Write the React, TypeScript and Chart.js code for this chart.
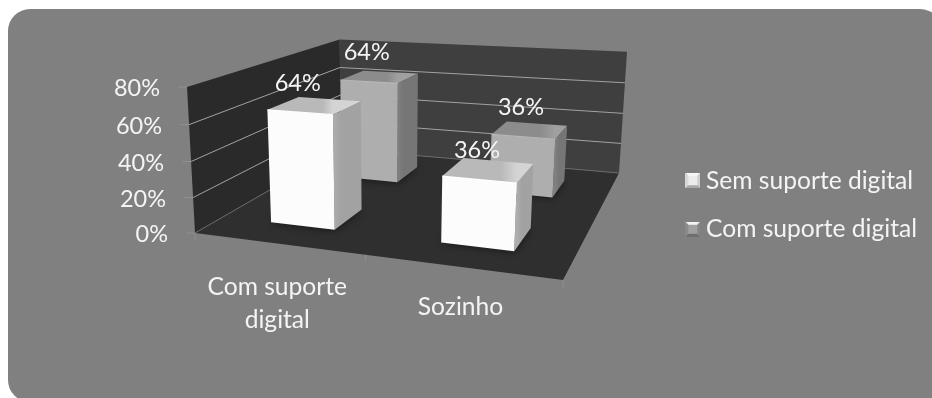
import React, { useEffect, useRef } from "react";
import { Chart, BarController, BarElement, CategoryScale, LinearScale, Legend } from "chart.js";

const categories: string[][] = [["Com suporte", "digital"], ["Sozinho"]];
const seriesNames = ["Sem suporte digital", "Com suporte digital"];
const semSuporte = [0.64, 0.36];
const comSuporte = [0.64, 0.36];
const axisMax = 0.8;
const axisStep = 0.2;

const FONT = "Lato, Carlito, sans-serif";
const TEXT = "#f4f4f4";
const FONT_SIZE = 24.6;
const NUMBER_SIZE = 23.5;

type P = [number, number];

// Screen positions of the plot cube's corners, used to build a perspective projection.
const FLOOR_FRONT_LEFT: P = [195, 233];
const FLOOR_FRONT_RIGHT: P = [563, 280];
const FLOOR_BACK_RIGHT: P = [619, 173];
const FLOOR_BACK_LEFT: P = [341, 149];
const TOP_FRONT_LEFT: P = [187, 87];
const TOP_BACK_RIGHT: P = [627, 53];

function buildProjection() {
  const [x0, y0] = FLOOR_FRONT_LEFT;
  const [x1, y1] = FLOOR_FRONT_RIGHT;
  const [x2, y2] = FLOOR_BACK_RIGHT;
  const [x3, y3] = FLOOR_BACK_LEFT;
  const sx = x0 - x1 + x2 - x3;
  const sy = y0 - y1 + y2 - y3;
  const dx1 = x1 - x2;
  const dx2 = x3 - x2;
  const dy1 = y1 - y2;
  const dy2 = y3 - y2;
  const den = dx1 * dy2 - dx2 * dy1;
  const g = (sx * dy2 - dx2 * sy) / den;
  const h = (dx1 * sy - sx * dy1) / den;
  const a = x1 - x0 + g * x1;
  const b = x3 - x0 + h * x3;
  const d = y1 - y0 + g * y1;
  const e = y3 - y0 + h * y3;
  const [tx, ty] = TOP_FRONT_LEFT;
  const [rx] = TOP_BACK_RIGHT;
  const farW = g + h + 1;
  const farX = a + b + x0;
  const wz = (farX + tx - x0 - rx * farW) / (rx - tx);
  const wx = tx * (1 + wz) - x0;
  const wy = ty * (1 + wz) - y0;
  return (u: number, v: number, t: number): P => {
    const w = g * u + h * v + 1 + wz * t;
    return [(a * u + b * v + x0 + wx * t) / w, (d * u + e * v + y0 + wy * t) / w];
  };
}

const project = buildProjection();

function quad(ctx: CanvasRenderingContext2D, pts: P[], fill: string | CanvasGradient) {
  ctx.beginPath();
  pts.forEach((p, i) => (i ? ctx.lineTo(p[0], p[1]) : ctx.moveTo(p[0], p[1])));
  ctx.closePath();
  ctx.fillStyle = fill;
  ctx.fill();
}

function stroke(ctx: CanvasRenderingContext2D, a: P, b: P, color: string, width = 1) {
  ctx.beginPath();
  ctx.moveTo(a[0], a[1]);
  ctx.lineTo(b[0], b[1]);
  ctx.strokeStyle = color;
  ctx.lineWidth = width;
  ctx.stroke();
}

type BoxStyle = { front: string; topFrom: string; topTo: string; side: string; sideLit: string; edge: string };

const boxStyles: BoxStyle[] = [
  { front: "#fcfcfc", topFrom: "#b9b9b9", topTo: "#d4d4d4", side: "#a2a2a2", sideLit: "#aeaeae", edge: "#ffffff" },
  { front: "#aeaeae", topFrom: "#8c8c8c", topTo: "#a0a0a0", side: "#767676", sideLit: "#808080", edge: "#b8b8b8" },
];

// Bar controller whose elements are extruded along the depth axis and projected.
class Box3DController extends BarController {
  static id = "box3d";
  static defaults = BarController.defaults;
  static overrides = BarController.overrides;

  draw() {
    const chart = this.chart;
    const ctx = chart.ctx as CanvasRenderingContext2D;
    const meta = this.getMeta();
    const xs = chart.scales.x;
    const ys = chart.scales.y;
    const zs = chart.scales.z;
    const style = boxStyles[this.index];
    const zc = (zs.getPixelForValue(seriesNames[this.index] as any) - zs.left) / zs.width;
    meta.data.forEach((el: any) => {
      const { x, y, base, width } = el.getProps(["x", "y", "base", "width"], true);
      const uc = (x - xs.left) / xs.width;
      const half = width / xs.width / 2;
      const u0 = uc - half;
      const u1 = uc + half;
      const v0 = zc - half;
      const v1 = zc + half;
      const t = (ys.bottom - y) / ys.height;
      const t0 = (ys.bottom - base) / ys.height;

      ctx.save();
      ctx.shadowColor = "rgba(0,0,0,0.6)";
      ctx.shadowBlur = 9;
      quad(ctx, [project(u0, v0, t0), project(u1, v0, t0), project(u1, v1, t0), project(u0, v1, t0)], "#222222");
      ctx.restore();

      const fl = project(u0, v0, t);
      const fr = project(u1, v0, t);
      const br = project(u1, v1, t);
      const bl = project(u0, v1, t);
      const ftFloor = project(u1, v0, t0);
      const brFloor = project(u1, v1, t0);

      const topShade = ctx.createLinearGradient(bl[0], 0, fr[0], 0);
      topShade.addColorStop(0, style.topFrom);
      topShade.addColorStop(0.7, style.topFrom);
      topShade.addColorStop(1, style.topTo);
      quad(ctx, [fl, fr, br, bl], topShade);

      const sideShade = ctx.createLinearGradient(fr[0], 0, br[0], 0);
      sideShade.addColorStop(0, style.sideLit);
      sideShade.addColorStop(0.3, style.side);
      sideShade.addColorStop(1, style.side);
      quad(ctx, [fr, br, brFloor, ftFloor], sideShade);

      quad(ctx, [fl, fr, ftFloor, project(u0, v0, t0)], style.front);
      stroke(ctx, fl, fr, style.edge, 1.2);
    });
  }
}

// Background panel, walls, floor and grid are painted from the axis scales.
const stagePlugin = {
  id: "stage",
  beforeDraw(chart: any) {
    const ctx = chart.ctx as CanvasRenderingContext2D;
    ctx.save();
    ctx.fillStyle = "#ffffff";
    ctx.fillRect(0, 0, chart.width, chart.height);
    ctx.beginPath();
    ctx.roundRect(8, 9, 934, 393, 22);
    ctx.fillStyle = "#808080";
    ctx.fill();
    ctx.restore();
  },
  beforeDatasetsDraw(chart: any) {
    const ctx = chart.ctx as CanvasRenderingContext2D;
    const ys = chart.scales.y;
    const xs = chart.scales.x;
    ctx.save();
    quad(ctx, [project(0, 1, 0), project(1, 1, 0), project(1, 1, 1), project(0, 1, 1)], "#3f3f3f");
    quad(ctx, [project(0, 0, 0), project(0, 1, 0), project(0, 1, 1), project(0, 0, 1)], "#2a2a2a");
    quad(ctx, [project(0, 0, 0), project(1, 0, 0), project(1, 1, 0), project(0, 1, 0)], "#2f2f2f");

    ys.ticks.forEach((tick: any) => {
      const t = (ys.bottom - ys.getPixelForValue(tick.value)) / ys.height;
      const front = project(0, 0, t);
      stroke(ctx, [front[0] - 9, front[1]], front, "#8f8f8f");
      if (t < 0.999) {
        const color = t < 0.001 ? "#6a6a6a" : "#a2a2a2";
        stroke(ctx, front, project(0, 1, t), color);
        stroke(ctx, project(0, 1, t), project(1, 1, t), color);
      }
    });
    [0, 0.5, 1].forEach((u) => {
      const p = project(u, 0, 0);
      stroke(ctx, p, [p[0], p[1] + 7], "#8f8f8f");
    });

    ctx.fillStyle = TEXT;
    ctx.font = `${NUMBER_SIZE}px ${FONT}`;
    ctx.textAlign = "right";
    ctx.textBaseline = "middle";
    ys.ticks.forEach((tick: any) => {
      const t = (ys.bottom - ys.getPixelForValue(tick.value)) / ys.height;
      const p = project(0, 0, t);
      ctx.fillText(`${Math.round(tick.value * 100)}%`, p[0] - 27, p[1] + 1.5);
    });

    ctx.font = `${FONT_SIZE}px ${FONT}`;
    ctx.textAlign = "center";
    xs.getLabels().forEach((label: string[], i: number) => {
      const u = (xs.getPixelForValue(i) - xs.left) / xs.width;
      const p = project(u, 0, 0);
      const lineHeight = 33;
      const top = 304 - ((label.length - 1) * lineHeight) / 2;
      label.forEach((line, j) => ctx.fillText(line, p[0], top + j * lineHeight + (label.length === 1 ? 3 : 0)));
    });
    ctx.restore();
  },
  afterDatasetsDraw(chart: any) {
    const ctx = chart.ctx as CanvasRenderingContext2D;
    const xs = chart.scales.x;
    const ys = chart.scales.y;
    const zs = chart.scales.z;
    ctx.save();
    ctx.fillStyle = TEXT;
    ctx.font = `${NUMBER_SIZE}px ${FONT}`;
    ctx.textAlign = "center";
    ctx.textBaseline = "middle";
    chart.data.datasets.forEach((ds: any, di: number) => {
      const zc = (zs.getPixelForValue(seriesNames[di] as any) - zs.left) / zs.width;
      chart.getDatasetMeta(di).data.forEach((el: any, i: number) => {
        const half = el.width / xs.width / 2;
        const u = (el.x - xs.left) / xs.width;
        const t = (ys.bottom - el.y) / ys.height;
        const p = project(u, zc - half, t);
        ctx.fillText(`${Math.round(ds.data[i] * 100)}%`, p[0] - 2, p[1] - 29);
      });
    });
    ctx.restore();
  },
};

// Small bevelled legend swatches.
function swatch(center: string, top: string, bottom: string, left: string, right: string) {
  const c = document.createElement("canvas");
  c.width = 15;
  c.height = 15;
  const ctx = c.getContext("2d") as CanvasRenderingContext2D;
  const s = 15;
  const b = 3;
  quad(ctx, [[0, 0], [s, 0], [s - b, b], [b, b]], top);
  quad(ctx, [[0, s], [s, s], [s - b, s - b], [b, s - b]], bottom);
  quad(ctx, [[0, 0], [b, b], [b, s - b], [0, s]], left);
  quad(ctx, [[s, 0], [s - b, b], [s - b, s - b], [s, s]], right);
  quad(ctx, [[b, b], [s - b, b], [s - b, s - b], [b, s - b]], center);
  return c;
}

export default function App() {
  const ref = useRef<HTMLCanvasElement>(null);
  useEffect(() => {
    Chart.register(Box3DController, BarElement, CategoryScale, LinearScale, Legend);
    const swatches = [
      swatch("#ececec", "#f7f7f7", "#a9a9a9", "#d8d8d8", "#cfcfcf"),
      swatch("#a0a0a0", "#f4f4f4", "#6f6f6f", "#8a8a8a", "#858585"),
    ];
    const chart = new Chart(ref.current as HTMLCanvasElement, {
      type: "box3d" as any,
      plugins: [stagePlugin],
      data: {
        labels: categories as any,
        datasets: [
          { label: seriesNames[0], data: semSuporte, grouped: false, backgroundColor: "#fcfcfc" },
          { label: seriesNames[1], data: comSuporte, grouped: false, backgroundColor: "#aeaeae" },
        ] as any,
      },
      options: {
        animation: false,
        responsive: false,
        events: [],
        layout: { padding: { top: 12, right: 5 } },
        datasets: { box3d: { barPercentage: 0.39, categoryPercentage: 1 } } as any,
        scales: {
          x: { type: "category", display: false },
          y: { type: "linear", min: 0, max: axisMax, ticks: { stepSize: axisStep }, display: false },
          z: { type: "category", axis: "x", labels: seriesNames, display: false, offset: true },
        } as any,
        plugins: {
          tooltip: { enabled: false },
          legend: {
            display: true,
            position: "right",
            labels: {
              usePointStyle: true,
              pointStyleWidth: 2,
              padding: 24,
              font: { family: FONT, size: FONT_SIZE },
              color: TEXT,
              generateLabels: () =>
                seriesNames.map((text, i) => ({
                  text,
                  datasetIndex: i,
                  pointStyle: swatches[i],
                  fontColor: TEXT,
                  lineWidth: 0,
                  fillStyle: "transparent",
                  strokeStyle: "transparent",
                })),
            },
          },
        },
      },
    } as any);
    return () => chart.destroy();
  }, []);
  return (
    <canvas
      ref={ref}
      width={932}
      height={398}
      style={{ position: "fixed", left: 0, top: 0, width: 932, height: 398, display: "block" }}
    />
  );
}
